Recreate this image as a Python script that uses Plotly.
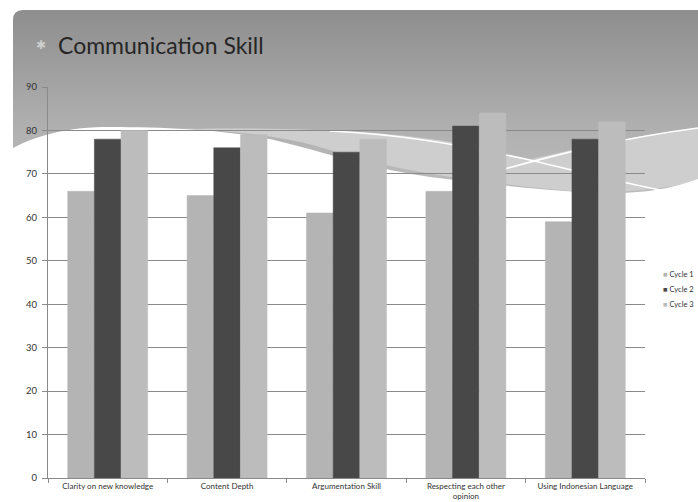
import base64
import plotly.graph_objects as go

# ---- data ----
categories = [
    "Clarity on new knowledge",
    "Content Depth",
    "Argumentation Skill",
    "Respecting each other<br>opinion",
    "Using Indonesian Language",
]
series_names = ["Cycle 1", "Cycle 2", "Cycle 3"]
cycle1 = [66, 65, 61, 66, 59]
cycle2 = [78, 76, 75, 81, 78]
cycle3 = [80, 79, 78, 84, 82]
y_ticks = [0, 10, 20, 30, 40, 50, 60, 70, 80, 90]

colors = ["#b4b4b4", "#484848", "#bcbcbc"]

# ---- figure geometry (pixels) ----
W, H = 698, 502
L, R, T, B = 48, 53, 87, 24
PW, PH = W - L - R, H - T - B


def px(x):
    return (x - L) / PW


def py(y):
    return (H - B - y) / PH


# decorative slide background: grey gradient header with soft waves
svg = """<svg xmlns="http://www.w3.org/2000/svg" width="698" height="502" viewBox="0 0 698 502">
<defs>
<linearGradient id="g" x1="0" y1="10" x2="0" y2="220" gradientUnits="userSpaceOnUse">
<stop offset="0" stop-color="#8e8e8e"/><stop offset="0.6" stop-color="#b2b2b2"/><stop offset="1" stop-color="#c0c0c0"/>
</linearGradient>
</defs>
<rect width="698" height="502" fill="#ffffff"/>
<path d="M13,220 L13,20 Q13,10 23,10 L698,10 L698,220 Z" fill="url(#g)"/>
<path d="M170,129 C280,127 380,130 450,142 C490,149 510,156 528,160 C570,150 620,138 698,128 L698,180 C660,192 600,194 560,190 C480,182 400,172 340,153 C300,140 250,130 170,129 Z" fill="#cecece"/>
<path d="M13,148 C40,134 70,127 110,127 C180,127 250,132 290,144 C340,157 380,170 430,177 C500,185 560,193 620,193 C660,192 680,185 698,179 L698,502 L13,502 Z" fill="#ffffff"/>
<path d="M330,131 C400,134 460,145 530,160 C580,172 620,182 660,190" fill="none" stroke="#ffffff" stroke-width="1.6"/>
<path d="M470,178 C540,160 600,141 698,128" fill="none" stroke="#ffffff" stroke-width="1.6"/>
</svg>"""
bg_uri = "data:image/svg+xml;base64," + base64.b64encode(svg.encode()).decode()

fig = go.Figure()
for name, vals, col in zip(series_names, [cycle1, cycle2, cycle3], colors):
    fig.add_trace(
        go.Bar(
            x=categories,
            y=vals,
            name=name,
            marker=dict(color=col, line=dict(color=col, width=0.5)),
            showlegend=False,
        )
    )

axis_col = "#8a8a8a"
x_font = dict(family="Lato, sans-serif", size=8, color="#333333")
y_font = dict(family="Lato, sans-serif", size=9.5, color="#333333")

fig.update_layout(
    width=W,
    height=H,
    margin=dict(l=L, r=R, t=T, b=B, pad=0, autoexpand=False),
    paper_bgcolor="rgba(0,0,0,0)",
    plot_bgcolor="rgba(0,0,0,0)",
    barmode="group",
    bargap=0.33,
    bargroupgap=0,
    images=[
        dict(
            source=bg_uri,
            xref="paper",
            yref="paper",
            x=px(0),
            y=py(0),
            sizex=W / PW,
            sizey=H / PH,
            xanchor="left",
            yanchor="top",
            sizing="stretch",
            layer="below",
        )
    ],
    xaxis=dict(
        showline=True,
        linecolor=axis_col,
        linewidth=1,
        ticks="outside",
        tickson="boundaries",
        ticklen=4,
        tickcolor=axis_col,
        tickfont=x_font,
        tickangle=0,
        automargin=False,
        ticklabelstandoff=0,
        showgrid=False,
        fixedrange=True,
    ),
    yaxis=dict(
        range=[0, 90],
        tickvals=y_ticks,
        showline=True,
        linecolor=axis_col,
        linewidth=1,
        ticks="outside",
        ticklen=5,
        tickcolor=axis_col,
        tickfont=y_font,
        automargin=False,
        ticklabelstandoff=3,
        showgrid=True,
        gridcolor=axis_col,
        gridwidth=1,
        zeroline=False,
        fixedrange=True,
    ),
)

annotations = [
    dict(
        text="✱",
        xref="paper",
        yref="paper",
        x=px(41),
        y=py(45),
        xanchor="center",
        yanchor="middle",
        showarrow=False,
        font=dict(family="DejaVu Sans", size=12, color="#cfcfcf"),
    ),
    dict(
        text="Communication Skill",
        xref="paper",
        yref="paper",
        x=px(56),
        y=py(45),
        xanchor="left",
        yanchor="middle",
        showarrow=False,
        font=dict(family="Lato, sans-serif", size=23, color="#262626"),
    ),
]

legend_y = [274, 289, 304]
for name, col, ly in zip(series_names, colors, legend_y):
    annotations.append(
        dict(
            text=f'<span style="color:{col}">■</span> {name}',
            xref="paper",
            yref="paper",
            x=px(661),
            y=py(ly),
            xanchor="left",
            yanchor="middle",
            showarrow=False,
            font=dict(family="Lato, sans-serif", size=7.5, color="#333333"),
        )
    )

fig.update_layout(annotations=annotations)

fig.write_html("out.html")
